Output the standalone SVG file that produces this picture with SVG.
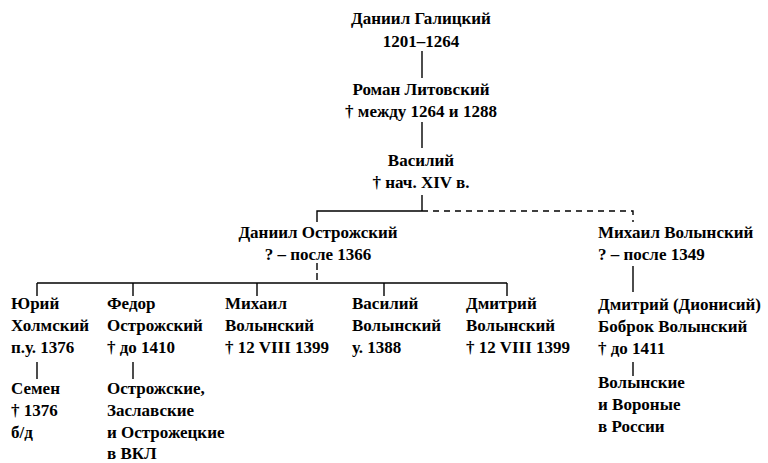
<svg xmlns="http://www.w3.org/2000/svg" width="768" height="463" viewBox="0 0 768 463">
<style>
text{font-family:"Liberation Serif","Times New Roman",serif;font-weight:bold;font-size:17px;fill:#000}
.c{text-anchor:middle}
.ln{stroke:#000;stroke-width:1.4;fill:none}
.ds{stroke:#000;stroke-width:1.4;fill:none;stroke-dasharray:6 5}
.dt{stroke:#000;stroke-width:1.4;fill:none;stroke-dasharray:7 3}
</style>
<rect width="768" height="463" fill="#fff"/>
<g id="connectors">
<line class="ln" x1="422" y1="51" x2="422" y2="78"/>
<line class="ln" x1="422" y1="122" x2="422" y2="148"/>
<line class="ln" x1="422" y1="195" x2="422" y2="211"/>
<polyline class="ln" points="422,211 317,211 317,222"/>
<polyline class="ds" points="422,211 633,211 633,222"/>
<line class="dt" x1="317" y1="263" x2="317" y2="283"/>
<line class="ln" x1="37" y1="283" x2="507" y2="283"/>
<line class="ln" x1="37" y1="283" x2="37" y2="296"/>
<line class="ln" x1="133" y1="283" x2="133" y2="296"/>
<line class="ln" x1="257" y1="283" x2="257" y2="296"/>
<line class="ln" x1="384" y1="283" x2="384" y2="296"/>
<line class="ln" x1="507" y1="283" x2="507" y2="296"/>
<line class="ln" x1="633" y1="266" x2="633" y2="292"/>
<line class="ln" x1="37" y1="362" x2="37" y2="379"/>
<line class="ln" x1="133" y1="362" x2="133" y2="379"/>
<line class="ln" x1="633" y1="362" x2="633" y2="376"/>
</g>
<g id="n1"><text class="c" x="421" y="24">Даниил Галицкий</text><text class="c" x="421" y="47">1201–1264</text></g>
<g id="n2"><text class="c" x="421" y="95">Роман Литовский</text><text class="c" x="421" y="117">† между 1264 и 1288</text></g>
<g id="n3"><text class="c" x="421" y="166">Василий</text><text class="c" x="421" y="188">† нач. XIV в.</text></g>
<g id="n4"><text class="c" x="318" y="238">Даниил Острожский</text><text class="c" x="318" y="260">? – после 1366</text></g>
<g id="n5"><text x="598" y="238">Михаил Волынский</text><text x="598" y="260">? – после 1349</text></g>
<g id="n6"><text x="11" y="309">Юрий</text><text x="11" y="331">Холмский</text><text x="11" y="353">п.у. 1376</text></g>
<g id="n7"><text x="107" y="309">Федор</text><text x="107" y="331">Острожский</text><text x="107" y="353">† до 1410</text></g>
<g id="n8"><text x="225" y="309">Михаил</text><text x="225" y="331">Волынский</text><text x="225" y="353">† 12 VIII 1399</text></g>
<g id="n9"><text x="352" y="309">Василий</text><text x="352" y="331">Волынский</text><text x="352" y="353">у. 1388</text></g>
<g id="n10"><text x="466" y="309">Дмитрий</text><text x="466" y="331">Волынский</text><text x="466" y="353">† 12 VIII 1399</text></g>
<g id="n11"><text x="598" y="310">Дмитрий (Дионисий)</text><text x="598" y="332">Боброк Волынский</text><text x="598" y="354">† до 1411</text></g>
<g id="n12"><text x="11" y="394">Семен</text><text x="11" y="416">† 1376</text><text x="11" y="438">б/д</text></g>
<g id="n13"><text x="107" y="394">Острожские,</text><text x="107" y="416">Заславские</text><text x="107" y="438">и Острожецкие</text><text x="107" y="459">в ВКЛ</text></g>
<g id="n14"><text x="598" y="388">Волынские</text><text x="598" y="410">и Вороные</text><text x="598" y="432">в России</text></g>
</svg>
